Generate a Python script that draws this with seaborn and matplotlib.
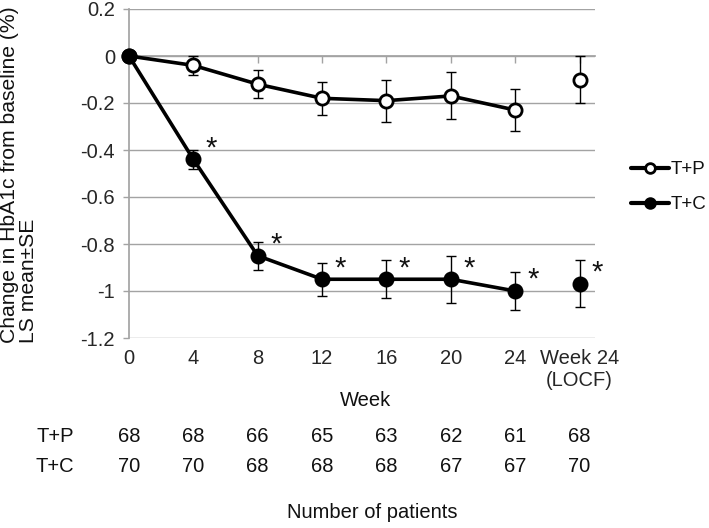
import numpy as np
import pandas as pd
import seaborn as sns
import matplotlib.pyplot as plt
from matplotlib.lines import Line2D
from matplotlib.ticker import FuncFormatter

# values
weeks = ['0', '4', '8', '12', '16', '20', '24', 'Week 24\n(LOCF)']
tp_mean = [0, -0.04, -0.12, -0.18, -0.19, -0.17, -0.23, -0.10]
tp_se = [0, 0.04, 0.06, 0.07, 0.09, 0.10, 0.09, 0.10]
tc_mean = [0, -0.44, -0.85, -0.95, -0.95, -0.95, -1.00, -0.97]
tc_se = [0, 0.04, 0.06, 0.07, 0.08, 0.10, 0.08, 0.10]
tc_sig = [False, True, True, True, True, True, True, True]
n_tp = [68, 68, 66, 65, 63, 62, 61, 68]
n_tc = [70, 70, 68, 68, 68, 67, 67, 70]
groups = ['T+P', 'T+C']

pos = np.arange(len(weeks))
df = pd.concat([
    pd.DataFrame({'group': 'T+P', 'pos': pos, 'mean': tp_mean, 'se': tp_se}),
    pd.DataFrame({'group': 'T+C', 'pos': pos, 'mean': tc_mean, 'se': tc_se}),
], ignore_index=True)
df['locf'] = df['pos'] == len(weeks) - 1

sns.set_theme(style='white')
plt.rcParams['font.family'] = ['Liberation Sans', 'DejaVu Sans']
plt.rcParams['text.color'] = '#111111'
fs = 14.5

fig = plt.figure(figsize=(7.09, 5.28), dpi=100)
ax = fig.add_axes([129 / 709, 1 - 338 / 528, 466 / 709, 329 / 528])

grid_c = '#a3a3a3'
ax.set_xlim(0, 7.24)
ax.set_ylim(-1.2, 0.2)
ax.set_yticks(np.round(np.arange(-1.2, 0.21, 0.2), 1))
ax.yaxis.set_major_formatter(FuncFormatter(lambda v, p: '0' if abs(v) < 1e-9 else f'{round(v, 1):g}'))
ax.yaxis.grid(True, color=grid_c, lw=1)
ax.set_axisbelow(True)
for s in ['top', 'right', 'bottom']:
    ax.spines[s].set_visible(False)
ax.spines['left'].set_color(grid_c)
ax.tick_params(axis='y', left=True, length=4, width=1, color=grid_c, pad=6, labelsize=fs)
ax.set_xticks(pos)
ax.set_xticklabels(weeks)
ax.tick_params(axis='x', length=0, pad=8, labelsize=fs)

# tick marks along the zero line
sec = ax.secondary_xaxis(1.2 / 1.4)
sec.set_xticks(pos)
sec.set_xticklabels([])
sec.tick_params(direction='in', length=5, width=1, color=grid_c)
for s in sec.spines.values():
    s.set_color(grid_c)

# error bars
ax.errorbar(df['pos'], df['mean'], yerr=df['se'], fmt='none', ecolor='black',
            elinewidth=1, capsize=3.5, capthick=1, zorder=2, clip_on=False)

for g, face in zip(groups, ['white', 'black']):
    sub = df[(df['group'] == g) & ~df['locf']]
    sns.lineplot(data=sub, x='pos', y='mean', ax=ax, color='black', lw=2.6,
                 marker='o', markersize=9.5, markerfacecolor=face,
                 markeredgecolor='black', markeredgewidth=2, clip_on=False,
                 zorder=3, legend=False)
    last = df[(df['group'] == g) & df['locf']]
    sns.lineplot(data=last, x='pos', y='mean', ax=ax, color='black', lw=0,
                 marker='o', markersize=9.5, markerfacecolor=face,
                 markeredgecolor='black', markeredgewidth=2, clip_on=False,
                 zorder=3, legend=False)
ax.set_xlabel('')
ax.set_ylabel('')

# significance marks
for p, m, s in zip(pos, tc_mean, tc_sig):
    if s:
        ax.annotate('*', (p, m), xytext=(13, 8), textcoords='offset points',
                    ha='center', va='center', fontsize=21)

# legend
handles = [Line2D([], [], color='black', lw=3, marker='o', ms=7, mfc=f,
                  mec='black', mew=2) for f in ['white', 'black']]
fig.legend(handles, groups, loc='upper left', bbox_to_anchor=(631 / 709, 1 - 161 / 528),
           frameon=False, fontsize=13.5, handlelength=2.0, handletextpad=0.1,
           labelspacing=0.95, borderpad=0, borderaxespad=0)

# y label
fig.text(19 / 709, 1 - 343 / 528, 'Change in HbA1c from baseline (%)\nLS mean\u00b1SE',
         rotation=90, ha='center', va='bottom', multialignment='left',
         fontsize=15.2, linespacing=1.0)

fig.text(366 / 709, 1 - 400 / 528, 'Week', ha='center', va='center', fontsize=fs)

# number of patients table
for label, counts, y in [('T+P', n_tp, 437), ('T+C', n_tc, 466)]:
    fy = 1 - y / 528
    fig.text(55 / 709, fy, label, ha='center', va='center', fontsize=fs)
    for p, c in zip(pos, counts):
        ax.annotate(str(c), (p, fy), xycoords=('data', 'figure fraction'),
                    ha='center', va='center', fontsize=fs, annotation_clip=False)
fig.text(372 / 709, 1 - 513 / 528, 'Number of patients', ha='center', va='center', fontsize=fs)

fig.savefig('out.png', dpi=100)
